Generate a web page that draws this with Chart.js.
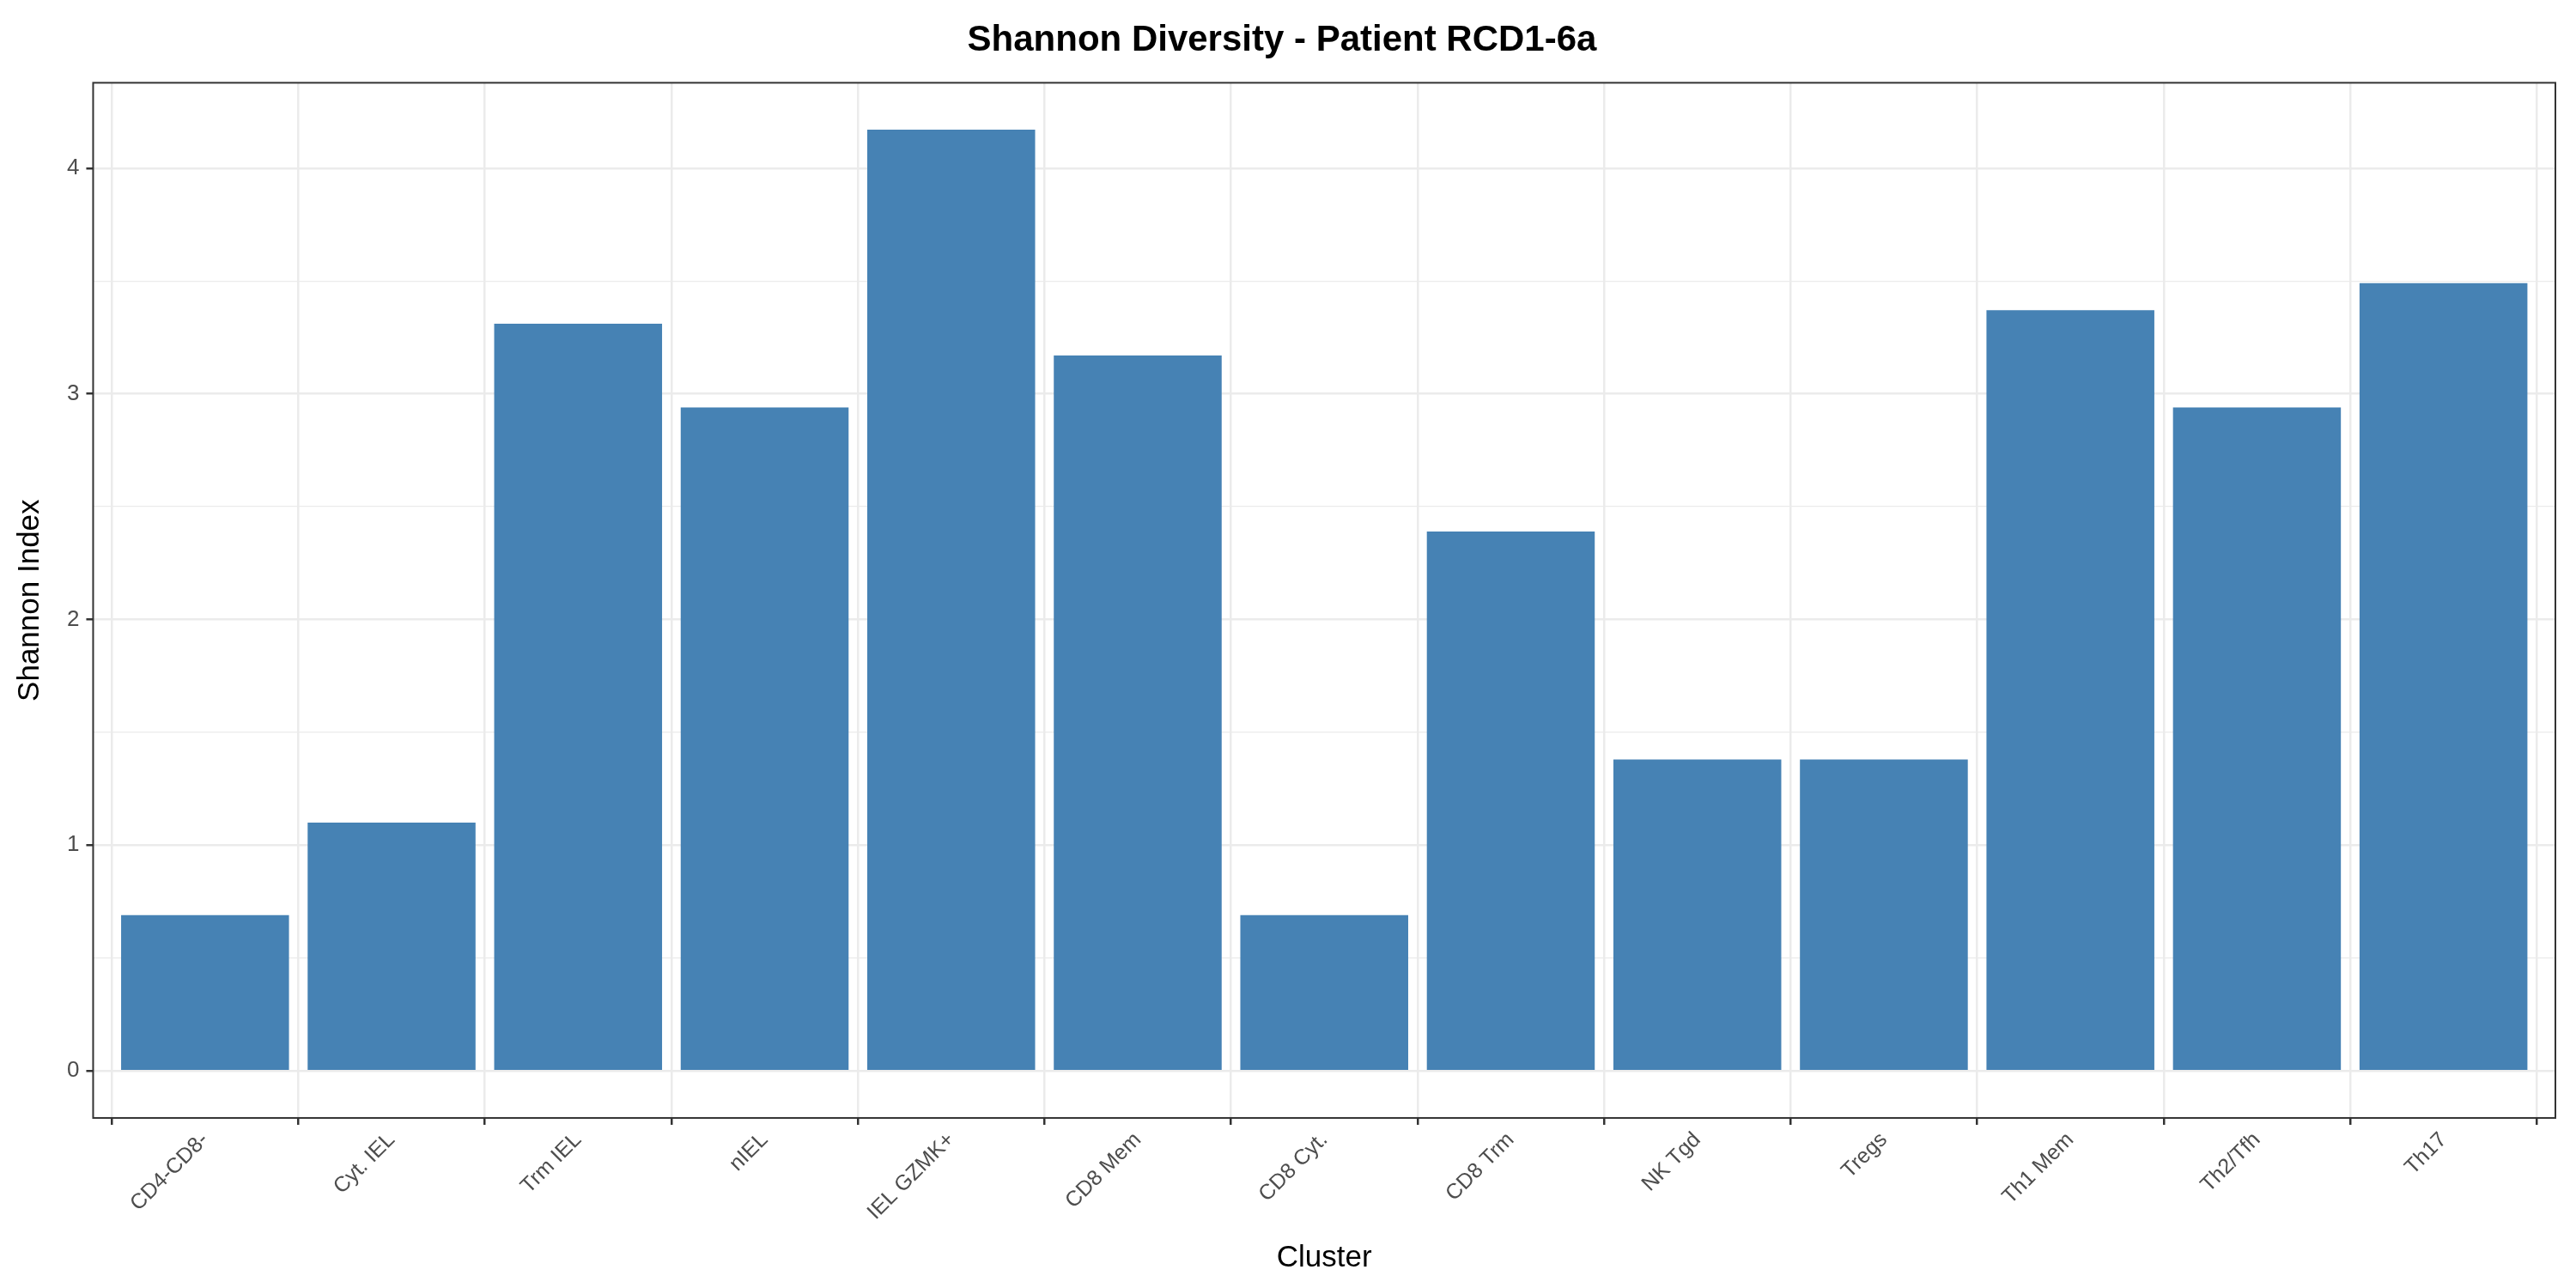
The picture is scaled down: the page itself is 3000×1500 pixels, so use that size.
<!DOCTYPE html>
<html>
<head>
<meta charset="utf-8">
<script src="https://cdn.jsdelivr.net/npm/chart.js@4.4.0/dist/chart.umd.min.js"></script>
<style>
  html, body { margin: 0; padding: 0; background: #fff; }
  #wrap { width: 3000px; height: 1500px; }
</style>
</head>
<body>
<div id="wrap"><canvas id="c" width="3000" height="1500"></canvas></div>
<script>
const clusters = ['CD4-CD8-', 'Cyt. IEL', 'Trm IEL', 'nIEL', 'IEL GZMK+', 'CD8 Mem', 'CD8 Cyt.',
    'CD8 Trm', 'NK Tgd', 'Tregs', 'Th1 Mem', 'Th2/Tfh', 'Th17'];
const shannon = [0.69, 1.10, 3.31, 2.94, 4.17, 3.17, 0.69, 2.39, 1.38, 1.38, 3.37, 2.94, 3.49];
const yTicks = [0, 1, 2, 3, 4];

Chart.defaults.font.family = "'Liberation Sans', Arial, sans-serif";

// panel border like ggplot theme_bw
const panelBorder = {
    id: 'panelBorder',
    afterDraw(chart) {
        const a = chart.chartArea, ctx = chart.ctx;
        ctx.save();
        ctx.strokeStyle = '#333333';
        ctx.lineWidth = 2;
        ctx.strokeRect(a.left, a.top, a.right - a.left, a.bottom - a.top);
        ctx.restore();
    }
};

new Chart(document.getElementById('c').getContext('2d'), {
    type: 'bar',
    data: {
        datasets: [{
            data: shannon.map((v, i) => ({ x: i, y: v })),
            backgroundColor: '#4682B4',
            borderWidth: 0,
            categoryPercentage: 0.9,
            barPercentage: 1.0
        }]
    },
    plugins: [panelBorder],
    options: {
        responsive: false,
        animation: false,
        devicePixelRatio: 1,
        layout: { padding: { left: 10, right: 24, top: 10, bottom: 10 } },
        plugins: {
            legend: { display: false },
            tooltip: { enabled: false },
            title: {
                display: true,
                text: 'Shannon Diversity - Patient RCD1-6a',
                color: '#000',
                font: { size: 42, weight: 'bold' },
                padding: { top: 12, bottom: 24 }
            }
        },
        scales: {
            x: {
                type: 'linear',
                min: -0.6,
                max: clusters.length - 0.4,
                offset: false,
                afterBuildTicks: axis => { axis.ticks = clusters.map((_, i) => ({ value: i })); },
                ticks: {
                    autoSkip: false,
                    maxRotation: 45,
                    minRotation: 45,
                    color: '#4d4d4d',
                    font: { size: 25 },
                    callback: v => clusters[v]
                },
                grid: { color: '#ebebeb', lineWidth: 2.5, drawTicks: true, tickColor: '#333333', tickLength: 8 },
                border: { display: false },
                title: { display: true, text: 'Cluster', color: '#000', font: { size: 35 }, padding: { top: 14 } }
            },
            y: {
                min: -0.2085,
                max: 4.378,
                afterBuildTicks: axis => {
                    const t = [];
                    for (let v = 0; v <= 4; v += 0.5) t.push({ value: v });
                    axis.ticks = t;
                },
                ticks: {
                    color: '#4d4d4d',
                    font: { size: 26 },
                    padding: 8,
                    callback: v => yTicks.includes(v) ? v : ''
                },
                grid: {
                    color: '#ebebeb',
                    lineWidth: ctx => Number.isInteger(ctx.tick.value) ? 2.5 : 1.3,
                    tickColor: ctx => Number.isInteger(ctx.tick.value) ? '#333333' : 'rgba(0,0,0,0)',
                    tickLength: 8
                },
                border: { display: false },
                title: { display: true, text: 'Shannon Index', color: '#000', font: { size: 35 }, padding: { bottom: 14 } }
            }
        }
    }
});
</script>
</body>
</html>
